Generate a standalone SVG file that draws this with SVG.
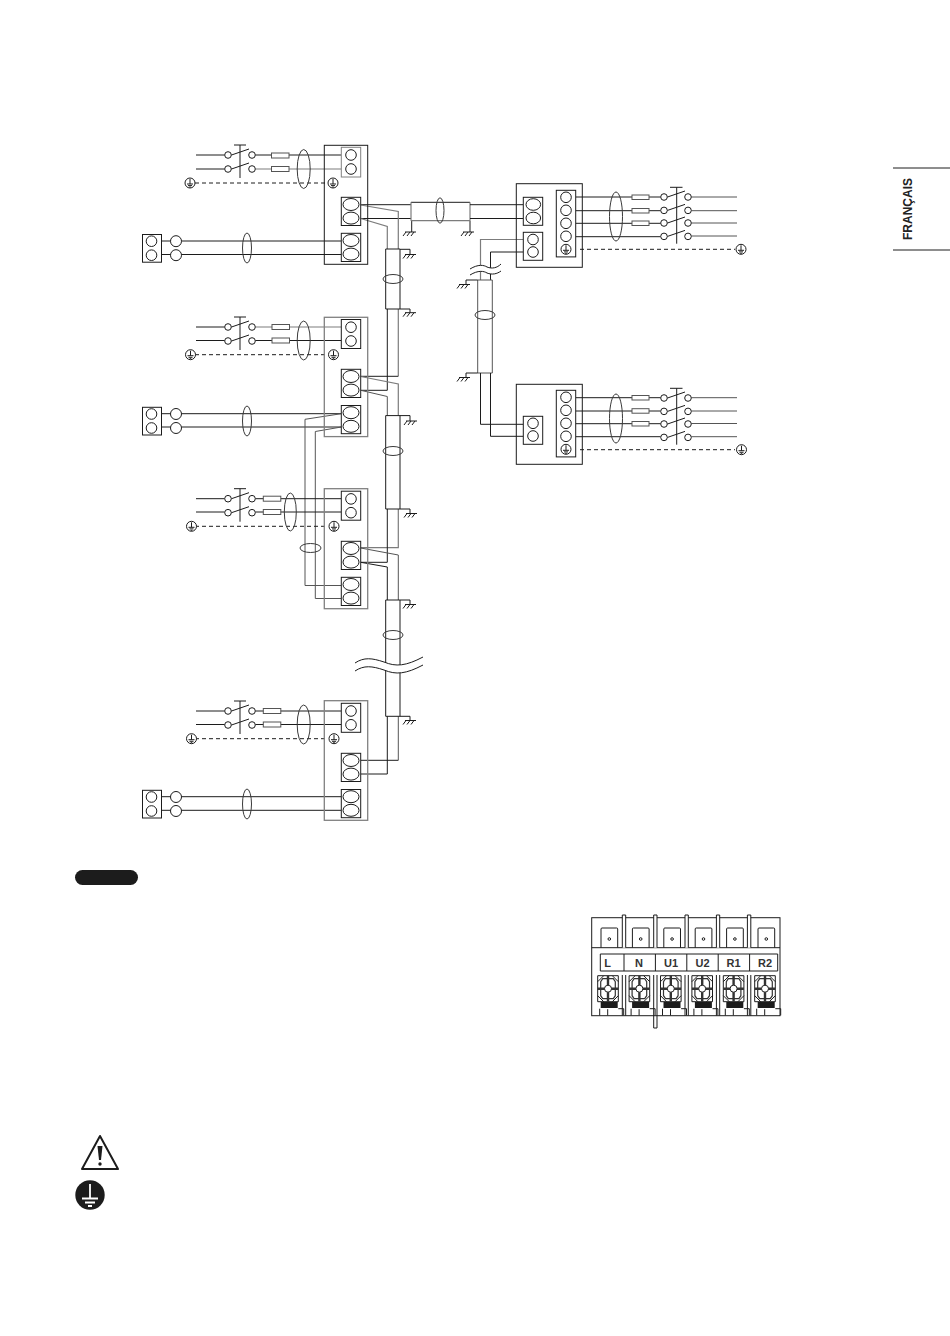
<svg xmlns="http://www.w3.org/2000/svg" xmlns:xlink="http://www.w3.org/1999/xlink" width="950" height="1336" viewBox="0 0 950 1336">
<style>
.w{fill:none;stroke:#1c1c1c;stroke-width:1}
.g{fill:none;stroke:#7c7c7c;stroke-width:1.2}
.m{fill:none;stroke:#555;stroke-width:1}
.e{fill:none;stroke:#3a3a3a;stroke-width:1}
.d{fill:none;stroke:#1c1c1c;stroke-width:1;stroke-dasharray:4 3}
.b{fill:#fff;stroke:#1c1c1c;stroke-width:1}
.box{fill:none;stroke:#1c1c1c;stroke-width:1}
.boxg{fill:none;stroke:#808080;stroke-width:1.3}
.f{fill:#fff;stroke:#555;stroke-width:1}
.k{fill:#1c1c1c;stroke:none}
.t{font-family:"Liberation Sans",Arial,sans-serif;font-weight:700;fill:#222}
.l{font-size:11px;text-anchor:middle;fill:#333}
</style>
<defs>
<g id="gnd"><path class="w" d="M-6 0H5M-5 0L-8 4M-1 0L-4 4M3 0L0 4"/></g>
<g id="earth"><circle class="b" r="5"/><path class="w" d="M0 -4V1M-3 1H3M-2 2.600H2M-.8 4H.8"/></g>
<g id="pole"><circle class="b" r="3.300"/><circle class="b" cx="24" r="3.300"/><path class="w" d="M3.500 0L21 -6"/></g>
<g id="sw2"><use xlink:href="#pole"/><use xlink:href="#pole" y="14"/><path class="w" d="M12 -10V23M6 -10H18"/></g>
<g id="sw4"><use xlink:href="#pole"/><use xlink:href="#pole" y="13.400"/><use xlink:href="#pole" y="26"/><use xlink:href="#pole" y="39.400"/><path class="w" d="M12.700 -9.700V46.700M6 -9.700H18.500"/></g>
<g id="remote"><rect class="b" x="142.500" y="0" width="19" height="27.700"/><circle class="b" cx="151.500" cy="6.700" r="5.300"/><circle class="b" cx="151.500" cy="20.700" r="5.300"/><circle class="b" cx="176" cy="6.700" r="5.500"/><circle class="b" cx="176" cy="20.700" r="5.500"/></g>
<g id="termO"><rect class="b" x="341.300" y="0" width="19.400" height="28.200"/><ellipse class="b" cx="351" cy="7.200" rx="8" ry="6"/><ellipse class="b" cx="351" cy="20.800" rx="8" ry="6"/></g>
<g id="termC"><rect class="b" x="341.300" y="0" width="19.400" height="29"/><circle class="b" cx="351" cy="7.700" r="5.300"/><circle class="b" cx="351" cy="21.500" r="5.300"/></g>
<g id="strip"><rect class="b" x="556.300" y="0" width="19.400" height="66.600"/><circle class="b" cx="566" cy="7" r="5.300"/><circle class="b" cx="566" cy="20" r="5.300"/><circle class="b" cx="566" cy="33" r="5.300"/><circle class="b" cx="566" cy="46" r="5.300"/><use xlink:href="#earth" x="566" y="59"/></g>
<g id="tab"><path class="w" d="M0 19.700V1Q0 0 1 0H15.700Q16.700 0 16.700 1V19.700"/><circle class="w" cx="8.300" cy="11" r="1.300"/></g>
<g id="screw">
<path class="w" d="M0 0H20.600V26H0ZM6 0L0 6M14.600 0L20.600 6M6 26L0 20M14.600 26L20.600 20"/>
<path d="M5 3H15.600L17.600 6V20L15.600 23H5L3 20V6Z" fill="none" stroke="#333" stroke-width="1.200"/>
<path d="M10.300 0V26M0 13H20.600" fill="none" stroke="#333" stroke-width="2.400"/>
<circle cx="10.300" cy="13" r="3.500" fill="#fff" stroke="#222"/>
<rect class="k" x="3" y="26.300" width="17" height="6"/>
<path class="w" d="M2 33V39.700M20.600 33H26V39.700M10 33.500V39.700"/>
</g>
</defs>

<g id="connectors">
<path class="w" d="M196 155H224.700M255.300 155H341.300M196 169H224.700"/><path class="g" d="M255.300 169H341.300"/>
<path class="d" d="M195 183H328"/>
<path class="w" d="M161.500 241H170.500M181.500 241H341.300M161.500 254.500H170.500M181.500 254.500H341.300"/>
<path class="w" d="M360.700 204.700H411M360.700 218.500H411"/>
<path class="g" d="M360.700 205L398.300 211.500V249M360.700 218.500L387.300 226.500V249"/>
<path class="g" d="M255.300 327H341.300"/><path class="w" d="M196 327H224.700M196 340.500H224.700M255.300 340.500H341.300"/>
<path class="d" d="M195 354.700H328"/>
<path class="w" d="M161.500 413.700H170.500M181.500 413.700H341.300M161.500 427H170.500M181.500 427H341.300"/>
<path class="g" d="M398.300 309V376.300"/><path class="w" d="M398.300 376.300H360.700M387.300 309V390.300H360.700"/>
<path class="g" d="M360.700 376.500L398.300 384V415.600"/><path class="m" d="M360.700 390.300L387.300 396.500V415.600"/>
<path class="m" d="M341.300 413.700L305 419.300V585.500H341.300M341.300 427L315.300 431.500V598.500H341.300"/>
<path class="w" d="M196 498.700H224.700M196 512H224.700M255.300 498.700H341.300M255.300 512H341.300"/>
<path class="d" d="M195 526.300H328"/>
<path class="g" d="M398.300 509V547.700H360.700"/><path class="w" d="M387.300 509V562.300H360.700"/>
<path class="m" d="M360.700 548L398.300 555V600"/><path class="w" d="M360.700 562.300L387.300 567V600"/>
<path class="w" d="M196 711H224.700M196 724.500H224.700M255.300 711H341.300M255.300 724.500H341.300"/>
<path class="d" d="M195 738.700H328"/>
<path class="w" d="M161.500 796.700H170.500M181.500 796.700H341.300M161.500 810.300H170.500M181.500 810.300H341.300"/>
<path class="m" d="M398.300 716.300V760.300"/><path class="w" d="M398.300 760.300H360.700M387.300 716.300V774H360.700"/>
<path class="w" d="M385.700 249H400V309H385.700Z"/><path class="w" d="M400 249.300H410V254.500M400 309H410V312.700M411.700 220.700V232M470 220.700V232"/>
<path class="w" d="M385.700 415.600H400V509H385.700Z"/><path class="w" d="M400 415.600H410V421M400 509H410V513.500"/>
<path class="w" d="M385.700 600H400V716.300H385.700Z"/><path class="w" d="M400 600H410V604.500M400 716.300H410V720.500"/>
<path class="w" d="M411 202.300H470"/><path class="g" d="M411 220.700H470M411 202.300V220.700M470 202.300V220.700"/>
<path class="w" d="M470 204.700H523.300M470 218.500H523.300"/>
<path class="g" d="M523.300 239.500H480.500V280"/><path class="w" d="M523.300 252H490.500V280"/>
<path class="m" d="M477.700 280H492.300V373H477.700Z"/>
<path class="w" d="M477.700 280H466V284.500M477.700 373H466V377.500M480.500 373V424.300H523.300M490.500 373V436.300H523.300"/>
<path class="w" d="M575.700 197H660.700M575.700 210.700H660.700M575.700 223.300H660.700M575.700 236.700H660.700"/>
<path class="m" d="M691.300 197H737M691.300 210.700H737M691.300 223H737M691.300 236H737"/>
<path class="d" d="M580 249.300H735"/>
<path class="w" d="M575.700 397.700H660.700M575.700 411H660.700M575.700 423.700H660.700M575.700 436.700H660.700"/>
<path class="m" d="M691.300 397.700H737M691.300 411H737M691.300 423.500H737M691.300 436.700H737"/>
<path class="d" d="M580 449.700H735"/>
<use xlink:href="#gnd" x="411" y="232"/><use xlink:href="#gnd" x="469" y="232"/>
<use xlink:href="#gnd" x="411" y="254.500"/><use xlink:href="#gnd" x="411" y="312.700"/>
<use xlink:href="#gnd" x="412" y="421"/><use xlink:href="#gnd" x="412" y="513.500"/>
<use xlink:href="#gnd" x="411" y="604.500"/><use xlink:href="#gnd" x="411" y="720.500"/>
<use xlink:href="#gnd" x="465" y="284.500"/><use xlink:href="#gnd" x="465" y="377.500"/>
<g>
<ellipse class="e" cx="303.700" cy="169" rx="6.500" ry="19.500"/>
<ellipse class="e" cx="247" cy="248" rx="4.500" ry="15"/>
<ellipse class="e" cx="393" cy="279" rx="10" ry="4.500"/>
<ellipse class="e" cx="303.700" cy="340.500" rx="6.500" ry="19.500"/>
<ellipse class="e" cx="247" cy="421" rx="4.500" ry="15"/>
<ellipse class="e" cx="393" cy="451" rx="10" ry="4.500"/>
<ellipse class="e" cx="290.300" cy="512" rx="6" ry="19"/>
<ellipse class="e" cx="310.500" cy="548" rx="10.500" ry="4.500"/>
<ellipse class="e" cx="393" cy="635" rx="10" ry="4.500"/>
<ellipse class="e" cx="303.700" cy="724.500" rx="6.500" ry="19.500"/>
<ellipse class="e" cx="247" cy="804" rx="4.500" ry="15"/>
<ellipse class="e" cx="440" cy="210.500" rx="4" ry="12.700"/>
<ellipse class="e" cx="485" cy="315" rx="10" ry="4.500"/>
<ellipse class="e" cx="616" cy="216.500" rx="6.500" ry="24.500"/>
<ellipse class="e" cx="616" cy="418.500" rx="6.500" ry="24.500"/>
</g>
<path d="M355 663C364 657 372 658 384 662C396 667 406 666 423 657V665C406 674 396 675 384 670C372 666 364 665 355 671Z" fill="#fff" stroke="none"/>
<path class="w" d="M355 663C364 657 372 658 384 662C396 667 406 666 423 657M355 671C364 665 372 666 384 670C396 675 406 674 423 665"/>
<path d="M470 269C478 264 484 265 487 267C492 269 497 268 501 264V271C497 274 492 275 487 273C484 271 478 270 470 275Z" fill="#fff" stroke="none"/>
<path class="w" d="M470 269C478 264 484 265 487 267C492 269 497 268 501 264M470 275C478 270 484 271 487 273C492 275 497 274 501 271"/>
</g>

<g id="unit-1">
<rect class="box" x="324.300" y="145.300" width="43.400" height="119"/>
<rect class="b" x="341.300" y="147.300" width="19.400" height="29.700" style="stroke:#808080"/><circle class="b" cx="351" cy="155" r="5.300"/><circle class="b" cx="351" cy="169" r="5.300"/>
<use xlink:href="#termO" y="197.300"/><use xlink:href="#termO" y="233.300"/>
<use xlink:href="#earth" x="333" y="183"/><use xlink:href="#earth" x="190" y="183"/>
<use xlink:href="#sw2" x="228" y="155"/>
<rect class="f" x="271.500" y="153" width="17.500" height="5"/><rect class="f" x="271.500" y="166.500" width="17.500" height="5"/>
</g>
<g id="remote-1"><use xlink:href="#remote" y="234.500"/></g>

<g id="unit-2">
<rect class="boxg" x="324.300" y="317.300" width="43.400" height="119.300"/>
<use xlink:href="#termC" y="319.500"/><use xlink:href="#termO" y="369.300"/><use xlink:href="#termO" y="405.500"/>
<use xlink:href="#earth" x="333.500" y="354.700"/><use xlink:href="#earth" x="190.500" y="354.700"/>
<use xlink:href="#sw2" x="228" y="327"/>
<rect class="f" x="272" y="324.500" width="17.500" height="5"/><rect class="f" x="272" y="338" width="17.500" height="5"/>
</g>
<g id="remote-2"><use xlink:href="#remote" y="407.300"/></g>

<g id="unit-3">
<rect class="boxg" x="324.300" y="488.700" width="43.400" height="120"/>
<use xlink:href="#termC" y="491.200"/><use xlink:href="#termO" y="541.300"/><use xlink:href="#termO" y="577.300"/>
<use xlink:href="#earth" x="334" y="526.300"/><use xlink:href="#earth" x="191.500" y="526.300"/>
<use xlink:href="#sw2" x="228" y="498.700"/>
<rect class="f" x="263.300" y="496.200" width="17.500" height="5"/><rect class="f" x="263.300" y="509.500" width="17.500" height="5"/>
</g>

<g id="unit-4">
<rect class="boxg" x="324.300" y="700.700" width="43.400" height="119.600"/>
<use xlink:href="#termC" y="703.300"/><use xlink:href="#termO" y="753.300"/><use xlink:href="#termO" y="789.500"/>
<use xlink:href="#earth" x="334" y="738.700"/><use xlink:href="#earth" x="191.500" y="738.700"/>
<use xlink:href="#sw2" x="228" y="711"/>
<rect class="f" x="263.300" y="708.500" width="17.500" height="5"/><rect class="f" x="263.300" y="722" width="17.500" height="5"/>
</g>
<g id="remote-4"><use xlink:href="#remote" y="790.300"/></g>

<g id="outdoor-1">
<rect class="box" x="516.300" y="183.700" width="66" height="83.600"/>
<rect class="b" x="523.300" y="197.300" width="19.400" height="28"/><ellipse class="b" cx="533.300" cy="204.500" rx="7.300" ry="5.800"/><ellipse class="b" cx="533.300" cy="218" rx="7.300" ry="5.800"/>
<rect class="b" x="523.300" y="232.300" width="19.400" height="28"/><circle class="b" cx="533" cy="239.500" r="5.300"/><circle class="b" cx="533" cy="252" r="5.300"/>
<use xlink:href="#strip" y="190.300"/>
<use xlink:href="#sw4" x="664" y="197"/>
<rect class="f" x="632" y="195" width="17" height="4.500"/><rect class="f" x="632" y="208.500" width="17" height="4.500"/><rect class="f" x="632" y="221" width="17" height="4.500"/>
<use xlink:href="#earth" x="741" y="249.300"/>
</g>
<g id="outdoor-2">
<rect class="box" x="516.300" y="384.300" width="66" height="80"/>
<rect class="b" x="523.300" y="416.300" width="19.400" height="28"/><circle class="b" cx="533" cy="423.300" r="5.300"/><circle class="b" cx="533" cy="436" r="5.300"/>
<use xlink:href="#strip" y="390.300"/>
<use xlink:href="#sw4" x="664" y="398"/>
<rect class="f" x="632" y="395.500" width="17" height="4.500"/><rect class="f" x="632" y="408.700" width="17" height="4.500"/><rect class="f" x="632" y="421.500" width="17" height="4.500"/>
<use xlink:href="#earth" x="741.500" y="449.700"/>
</g>

<g id="language-tab">
<path class="w" d="M893 168H950M893 250H950"/>
<text class="t" transform="translate(912 209) rotate(-90)" font-size="12" text-anchor="middle">FRANÇAIS</text>
</g>

<rect id="note-pill" class="k" x="75" y="870" width="63" height="15" rx="7.500"/>

<g id="terminal-block">
<rect class="box" x="591.700" y="917.700" width="188.300" height="98"/>
<path class="w" d="M591.700 947.700H780"/>
<use xlink:href="#tab" x="601" y="928"/><use xlink:href="#tab" x="632.400" y="928"/><use xlink:href="#tab" x="663.800" y="928"/><use xlink:href="#tab" x="695.200" y="928"/><use xlink:href="#tab" x="726.600" y="928"/><use xlink:href="#tab" x="758" y="928"/>
<path class="w" d="M600.300 954H777.700V971H600.300ZM624 954V971M655.400 954V971M686.800 954V971M718.200 954V971M749.600 954V971"/>
<path class="b" d="M622.300 947.700V915H625.700V947.700M653.700 947.700V915H657V947.700M685 947.700V915H688.300V947.700M716.400 947.700V915H719.700V947.700M747.400 947.700V915H750.800V947.700"/>
<path class="w" d="M622.300 975V1015.700M625.700 975V1015.700M653.700 975V1028H657V975M685 975V1015.700M688.300 975V1015.700M716.400 975V1015.700M719.700 975V1015.700M747.400 975V1015.700M750.800 975V1015.700"/>
<use xlink:href="#screw" x="597.700" y="975.700"/><use xlink:href="#screw" x="629.100" y="975.700"/><use xlink:href="#screw" x="660.500" y="975.700"/><use xlink:href="#screw" x="691.900" y="975.700"/><use xlink:href="#screw" x="723.300" y="975.700"/><use xlink:href="#screw" x="754.700" y="975.700"/>
<text class="t l" x="607.500" y="967">L</text>
<text class="t l" x="639" y="967">N</text>
<text class="t l" x="671" y="967">U1</text>
<text class="t l" x="702.500" y="967">U2</text>
<text class="t l" x="733.500" y="967">R1</text>
<text class="t l" x="765" y="967">R2</text>
</g>

<g id="caution-icon">
<path d="M100 1136L118 1169H82Z" fill="#fff" stroke="#1c1c1c" stroke-width="2" stroke-linejoin="round"/>
<path class="k" d="M97.500 1146H102.500L101 1160H99Z"/><circle class="k" cx="100" cy="1164" r="1.700"/>
</g>
<g id="earth-icon">
<circle class="k" cx="90" cy="1195" r="14.700"/>
<path d="M90 1184V1198M82 1198.500H98M85 1202.500H95M88 1206H92" fill="none" stroke="#fff" stroke-width="1.800"/>
</g>
</svg>
